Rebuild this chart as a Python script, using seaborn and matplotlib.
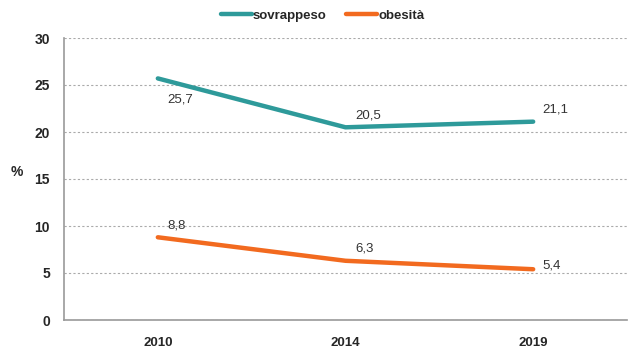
import pandas as pd
import seaborn as sns
import matplotlib.pyplot as plt
from matplotlib.ticker import FixedLocator

anni = ['2010', '2014', '2019']
sovrappeso = [25.7, 20.5, 21.1]
obesita = [8.8, 6.3, 5.4]

df = pd.DataFrame({
    'pos': list(range(len(anni))) * 2,
    'valore': sovrappeso + obesita,
    'serie': ['sovrappeso'] * 3 + ['obesità'] * 3,
})

sns.set_style('white')
plt.rcParams['font.family'] = ['Liberation Sans', 'DejaVu Sans']

fig = plt.figure(figsize=(6.33, 3.48), dpi=100)
ax = fig.add_axes([64 / 633, 1 - 320 / 348, (627 - 64) / 633, (320 - 38) / 348])

colori = {'sovrappeso': '#2E9A9A', 'obesità': '#F26A1F'}
sns.lineplot(data=df, x='pos', y='valore', hue='serie', palette=colori,
             linewidth=3.2, ax=ax, legend=False)

# etichette dei valori
offs_s = [(0.05, -2.2), (0.05, 1.3), (0.05, 1.3)]
offs_o = [(0.05, 1.2), (0.05, 1.3), (0.05, 0.4)]
for i, v in enumerate(sovrappeso):
    ax.text(i + offs_s[i][0], v + offs_s[i][1], f'{v:.1f}'.replace('.', ','),
            fontsize=9.5, color='#333333', va='center')
for i, v in enumerate(obesita):
    ax.text(i + offs_o[i][0], v + offs_o[i][1], f'{v:.1f}'.replace('.', ','),
            fontsize=9.5, color='#333333', va='center')

ax.set_xlim(-0.5, 2.5)
ax.set_ylim(0, 30)
ax.set_yticks(range(0, 31, 5))
ax.set_xticks(range(3))
ax.set_xticklabels(anni, fontweight='bold', fontsize=9.5)
ax.tick_params(axis='x', length=0, pad=12)
ax.tick_params(axis='y', length=4, color='#999999', labelsize=10, pad=6)
for t in ax.get_yticklabels():
    t.set_fontweight('bold')
ax.xaxis.set_minor_locator(FixedLocator([0.5, 1.5]))
ax.tick_params(axis='x', which='minor', length=4, color='#999999', direction='out')
ax.yaxis.grid(True, linestyle=(0, (2, 2)), color='#aaaaaa', linewidth=0.8)
ax.set_axisbelow(True)

for s in ['top', 'right']:
    ax.spines[s].set_visible(False)
for s in ['left', 'bottom']:
    ax.spines[s].set_color('#999999')
    ax.spines[s].set_linewidth(1.2)

ax.set_xlabel('')
ax.set_ylabel('%', rotation=0, fontsize=10, fontweight='bold', labelpad=13)

# legenda in alto
handles = [plt.Line2D([0], [0], color=colori[k], linewidth=3.2) for k in ['sovrappeso', 'obesità']]
fig.legend(handles, ['sovrappeso', 'obesità'], loc='center', bbox_to_anchor=(0.51, 0.955),
           ncol=2, frameon=False, handlelength=2.3, columnspacing=1.5, handletextpad=0.1,
           prop={'weight': 'bold', 'size': 9.5})

fig.savefig('out.png', dpi=100)
